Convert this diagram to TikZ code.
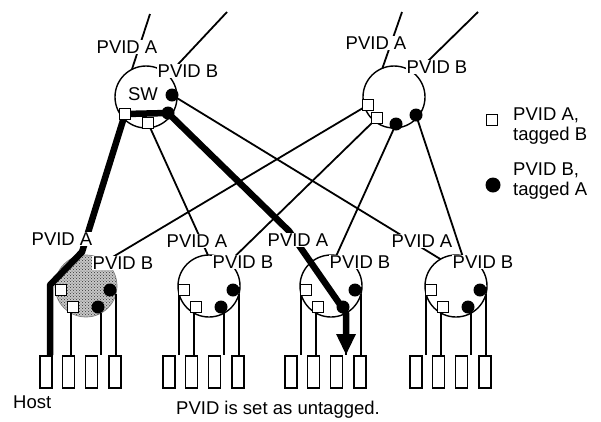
\documentclass[tikz,border=0pt]{standalone}
\usepackage{fontspec}
\setmainfont{Liberation Sans}
\usetikzlibrary{arrows.meta,patterns}
\newcommand\labelfont{\fontsize{18.5}{20}\selectfont}

\begin{document}
\begin{tikzpicture}[x=1pt,y=-1pt,
  switch/.style={circle,draw,line width=1.4pt,minimum size=62pt,inner sep=0pt,outer sep=0pt},
  portsq/.style={rectangle,draw,fill=white,line width=1pt,minimum size=10.5pt,inner sep=0pt},
  portdot/.style={circle,fill=black,minimum size=13pt,inner sep=0pt},
  hostbox/.style={rectangle,draw,line width=1.6pt,minimum width=12pt,minimum height=32pt,inner sep=0pt},
  lbl/.style={fill=white,inner sep=1pt,font=\labelfont},
  txt/.style={inner sep=0pt,font=\labelfont},
  link/.style={line width=1.8pt},
  drop/.style={line width=1.8pt},
  flow/.style={line width=6.5pt,line join=round},
]
\useasboundingbox (0,0) rectangle (601,421);

% core switches
\node[switch] (sw1) at (146,97) {};
\node[switch] (sw2) at (394,97) {};

% edge switches, the first one shaded
\node[switch,draw=black!50,line width=0.7pt,preaction={fill=black!22},
      pattern=crosshatch dots,pattern color=black!80] (bs1) at (86,286) {};
\node[switch] (bs2) at (209,286) {};
\node[switch] (bs3) at (331,286) {};
\node[switch] (bs4) at (456,286) {};

% hosts below each edge switch
\foreach \s/\x in {1/86,2/209,3/331,4/456} {
  \node[hostbox] (h\s1) at (\x-40,372) {};
  \node[hostbox] (h\s2) at (\x-17.5,372) {};
  \node[hostbox] (h\s3) at (\x+5.5,372) {};
  \node[hostbox] (h\s4) at (\x+29,372) {};
  \coordinate (bs\s-sq1) at (\x-25,290);
  \coordinate (bs\s-sq2) at (\x-13,307);
  \coordinate (bs\s-dot1) at (\x+24,290);
  \coordinate (bs\s-dot2) at (\x+12,307);
}

% port positions on the core switches
\coordinate (sw1-sq1) at (125,114);
\coordinate (sw1-sq2) at (148,123);
\coordinate (sw1-dot1) at (172,95);
\coordinate (sw1-dot2) at (168,113);
\coordinate (sw2-sq1) at (368,105);
\coordinate (sw2-sq2) at (377,118);
\coordinate (sw2-dot2) at (396,124);
\coordinate (sw2-dot1) at (416,115);

% uplinks leaving the top of the core switches
\coordinate (u1a) at (150,14);
\coordinate (u1b) at (227,12);
\coordinate (u2a) at (402,12);
\coordinate (u2b) at (478,12);
\draw[link] (u1a) -- (sw1.117);
\draw[link] (u1b) -- (sw1.45);
\draw[link] (u2a) -- (sw2.112);
\draw[link] (u2b) -- (sw2.48);

% trunk links between core and edge switches
\draw[link] (sw1-sq2) -- (bs2.92);
\draw[link] (sw1-dot1) -- (bs4.120);
\draw[link] (sw2-sq1) -- (bs1.52);
\draw[link] (sw2-sq2) -- (bs2.50);
\draw[link] (sw2-dot2) -- (bs3.80);
\draw[link] (sw2-dot1) -- (bs4.78);

% access ports down to the hosts
\foreach \s in {2,3,4}
  \draw[drop] (bs\s.195) -- (bs\s.195 |- h\s1.north);
\foreach \s in {1,2,3,4} {
  \draw[drop] (bs\s.241) -- (bs\s.241 |- h\s2.north);
  \draw[drop] (bs\s.299) -- (bs\s.299 |- h\s3.north);
  \draw[drop] (bs\s.345) -- (bs\s.345 |- h\s4.north);
}

% frame path from the first host to a host on the third edge switch
\coordinate (k1) at (50,285);
\coordinate (k2) at (82,252);
\coordinate (k3) at (289,231);
\draw[flow,-{Triangle[length=21pt,width=18pt]}]
  ([xshift=4pt]h11.north) -- (k1) -- (k2) -- (sw1-sq1) -- (sw1-dot2)
  -- (k3) -- (bs3.299) -- (bs3.299 |- h33.north);

% ports: squares = PVID A / tagged B, dots = PVID B / tagged A
\foreach \p in {sw1,sw2,bs1,bs2,bs3,bs4} {
  \node[portsq] (\p-nsq1) at (\p-sq1) {};
  \node[portsq] (\p-nsq2) at (\p-sq2) {};
  \node[portdot] (\p-ndot1) at (\p-dot1) {};
  \node[portdot] (\p-ndot2) at (\p-dot2) {};
}

% port group labels
\node[lbl] (l1a) at (127,47) {PVID A};
\node[lbl] (l1b) at (188,71) {PVID B};
\node[txt] (l1sw) at (143,94) {SW};
\node[lbl] (l2a) at (376,43) {PVID A};
\node[lbl] (l2b) at (437,67) {PVID B};
\node[lbl] (lb1a) at (62,239) {PVID A};
\node[lbl] (lb1b) at (123,263) {PVID B};
\node[lbl] (lb2a) at (197,241) {PVID A};
\node[lbl] (lb2b) at (243,262) {PVID B};
\node[lbl] (lb3a) at (298,240) {PVID A};
\node[lbl] (lb3b) at (360,262) {PVID B};
\node[lbl] (lb4a) at (422,241) {PVID A};
\node[lbl] (lb4b) at (483,262) {PVID B};

% legend
\node[portsq,minimum size=11pt] (keysq) at (492,120) {};
\node[txt,anchor=base west] (keysq1) at (513,120) {PVID A,};
\node[txt,anchor=base west] (keysq2) at (513,140) {tagged B};
\node[portdot,minimum size=15pt] (keydot) at (493,185) {};
\node[txt,anchor=base west] (keydot1) at (513,175) {PVID B,};
\node[txt,anchor=base west] (keydot2) at (513,195) {tagged A};

% captions
\node[txt,anchor=base west] (host) at (13,408) {Host};
\node[txt,anchor=base] (note) at (278,414) {PVID is set as untagged.};
\end{tikzpicture}
\end{document}
